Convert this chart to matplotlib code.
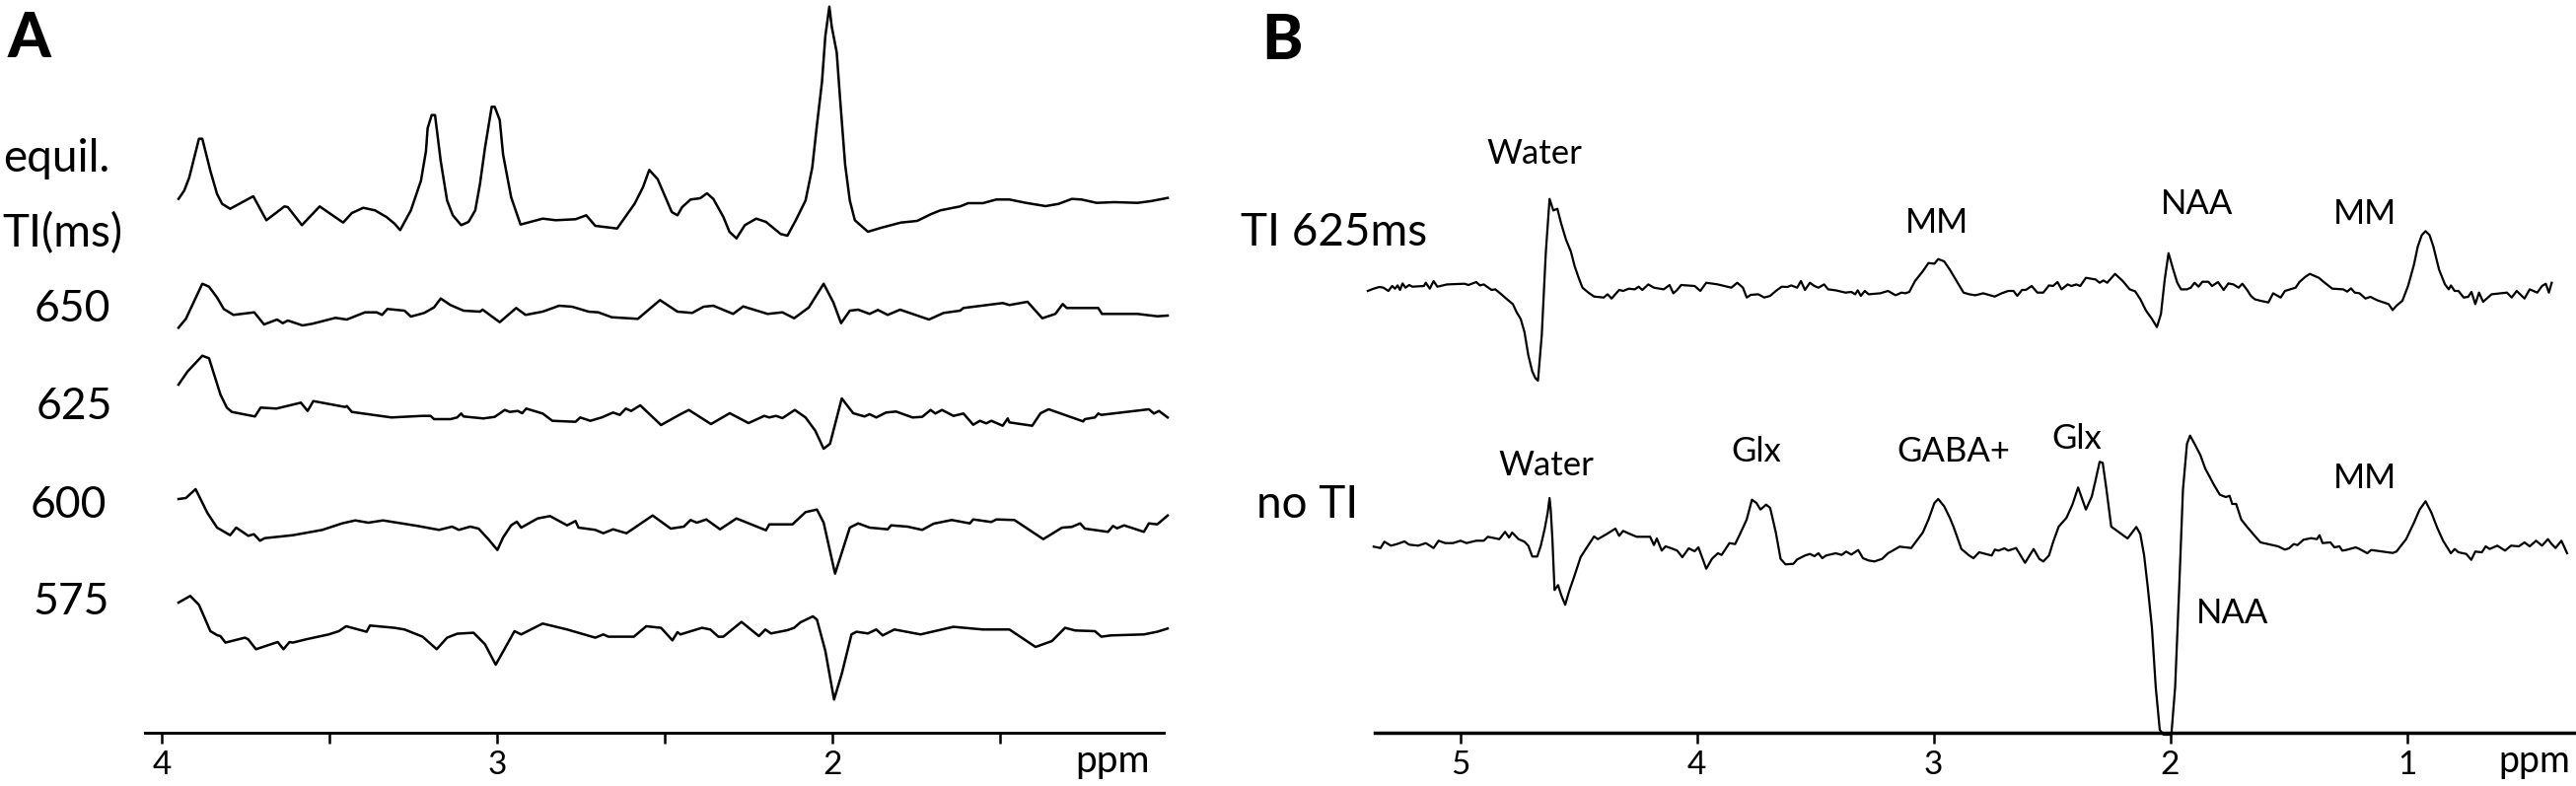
import numpy as np
import matplotlib
matplotlib.use("Agg")
import matplotlib.pyplot as plt

# ---------------- data (ppm, amplitude) ----------------
# Panel A
equil_ppm = [3.950, 3.933, 3.918, 3.889, 3.879, 3.855, 3.835, 3.820, 3.796, 3.727, 3.688, 3.634, 3.624, 3.582, 3.529,
             3.459, 3.433, 3.399, 3.364, 3.330, 3.306, 3.289, 3.257, 3.227, 3.212, 3.207, 3.195, 3.185, 3.168, 3.149,
             3.132, 3.107, 3.085, 3.065, 3.051, 3.036, 3.016, 3.007, 2.992, 2.982, 2.958, 2.930, 2.864, 2.825, 2.766,
             2.734, 2.707, 2.642, 2.590, 2.565, 2.546, 2.521, 2.502, 2.479, 2.462, 2.448, 2.423, 2.394, 2.374, 2.355,
             2.325, 2.307, 2.286, 2.261, 2.227, 2.198, 2.154, 2.134, 2.109, 2.080, 2.060, 2.046, 2.031, 2.021, 2.009,
             2.002, 1.987, 1.977, 1.962, 1.948, 1.933, 1.894, 1.855, 1.796, 1.747, 1.707, 1.678, 1.619, 1.595, 1.551,
             1.511, 1.472, 1.423, 1.364, 1.325, 1.286, 1.257, 1.212, 1.159, 1.090, 1.051, 1.000]
equil_amp = [13.3, 21.7, 35, 74.3, 74.3, 41.7, 18.3, 8.3, 3.3, 16, -8.3, 5.7, 5, -13.3, 5.7,
             -10.7, -1, 4.3, 1.7, -5, -11.7, -18.3, 1.7, 31.7, 61.7, 85, 98.3, 98.3, 51.7, 11.7,
             -3.3, -13.3, -10, 1.7, 28.3, 65, 106.7, 106.7, 93.3, 58.3, 15, -12.7, -6.7, -8.3, -7.3,
             -3.3, -14, -16.7, 8.3, 25, 42.7, 33.3, 18.3, 0, -3.3, 5, 12.7, 14, 19, 13.3,
             -5, -20, -26.7, -13.3, -6.7, -10, -22.3, -24, -8.3, 11.7, 45, 88.3, 131.7, 178.3, 208.3,
             188.3, 161.7, 115, 48.3, 11.7, -8.3, -20, -16, -10.7, -9, -2.3, 1.7, 5.7, 9, 9,
             12.7, 12.7, 9.3, 6, 8.3, 13.3, 12.7, 9.3, 10, 9.3, 11, 14.3]

ti650_ppm = [3.950, 3.928, 3.879, 3.859, 3.835, 3.815, 3.786, 3.724, 3.695, 3.656, 3.639, 3.624, 3.580, 3.551, 3.482,
             3.448, 3.394, 3.359, 3.343, 3.327, 3.276, 3.257, 3.217, 3.188, 3.168, 3.139, 3.100, 3.051, 3.043, 2.992,
             2.943, 2.915, 2.864, 2.815, 2.776, 2.727, 2.698, 2.658, 2.580, 2.514, 2.462, 2.418, 2.384, 2.355, 2.296,
             2.266, 2.193, 2.149, 2.114, 2.070, 2.026, 1.997, 1.974, 1.948, 1.923, 1.889, 1.864, 1.835, 1.798, 1.712,
             1.668, 1.619, 1.609, 1.492, 1.472, 1.418, 1.374, 1.335, 1.313, 1.301, 1.207, 1.196, 1.090, 1.031, 1.000]
ti650_amp = [-17.3, -8.3, 27.3, 24.3, 13.3, 1.7, -4.3, -1.7, -14, -9, -12.7, -10, -15, -13.3, -7.3,
             -9, -1.7, -1.7, -4.3, 1.7, 0, -6, -2.3, 3.3, 12.3, 5.7, 0, -1, 1, -11.7,
             2.7, -4.3, -1, 5, 4, -1, -1.7, -6.7, -8.3, 10.7, -1, -2.3, 4, 5, -3.3,
             4.3, -3.3, -1.7, -7.7, 3.3, 27.3, 8.3, -12.7, 0, 1, -3.3, 0.7, -4.3, 1, -9,
             -2.3, 0, 2.7, 7.7, 5.7, 9, -7.7, -3.3, 6.7, 2.7, 2.7, -3.3, -3.3, -5.7, -5]

ti625_ppm = [3.950, 3.923, 3.879, 3.859, 3.825, 3.806, 3.791, 3.722, 3.705, 3.658, 3.585, 3.565, 3.548, 3.453, 3.448,
             3.433, 3.315, 3.222, 3.198, 3.188, 3.139, 3.119, 3.107, 3.100, 3.041, 3.007, 2.977, 2.962, 2.938, 2.925,
             2.913, 2.864, 2.835, 2.766, 2.752, 2.722, 2.688, 2.654, 2.634, 2.616, 2.600, 2.573, 2.511, 2.453, 2.428,
             2.362, 2.306, 2.250, 2.203, 2.188, 2.168, 2.149, 2.112, 2.080, 2.051, 2.026, 2.007, 1.972, 1.938, 1.904,
             1.889, 1.869, 1.840, 1.810, 1.761, 1.732, 1.707, 1.693, 1.673, 1.639, 1.609, 1.580, 1.560, 1.541, 1.526,
             1.492, 1.477, 1.472, 1.404, 1.379, 1.355, 1.252, 1.247, 1.217, 1.207, 1.198, 1.056, 1.041, 1.026, 1.000]
ti625_amp = [30, 43.3, 59.3, 56.7, 20, 6.7, 2.3, -2.3, 6.7, 5.7, 11.7, 3.3, 13.3, 7.3, 8.3,
             2.3, -3.3, -1.7, -1.7, -5, -5, -3.3, 0.7, -2.3, -4.3, -2.7, 4.3, 2.3, 3.3, 1,
             5.7, 0.7, -6.7, -7.7, -3.3, -6.7, -3.3, 1.7, -0.7, 5.7, 3.3, 9, -11, 0, 4.3,
             -10, 1, -9, -1.7, -3.3, -1.7, -4, 4.3, -3.3, -16.7, -35, -30, 16, 1, -2.3,
             0, -3.3, 1.7, 2.7, -3.3, -2.7, 4.3, 0.7, 4.3, -1.7, 0.7, -10.7, -6.7, -9.3, -6.7,
             -11.7, -4.3, -8.3, -11.7, 1, 5, -7.3, -5, -3.3, 0.7, -0.7, 5, 0.7, 3.3, -3.3]

ti600_ppm = [3.950, 3.928, 3.899, 3.864, 3.835, 3.796, 3.778, 3.742, 3.725, 3.707, 3.693, 3.609, 3.521, 3.462, 3.423,
             3.384, 3.340, 3.237, 3.173, 3.134, 3.114, 3.080, 3.055, 3.026, 2.999, 2.982, 2.958, 2.941, 2.928, 2.879,
             2.842, 2.791, 2.766, 2.757, 2.707, 2.683, 2.654, 2.614, 2.536, 2.482, 2.443, 2.423, 2.404, 2.376, 2.335,
             2.286, 2.198, 2.188, 2.119, 2.080, 2.046, 2.026, 1.992, 1.948, 1.923, 1.889, 1.835, 1.825, 1.776, 1.732,
             1.698, 1.644, 1.590, 1.580, 1.526, 1.511, 1.457, 1.371, 1.315, 1.286, 1.261, 1.247, 1.178, 1.163, 1.151,
             1.130, 1.071, 1.056, 1.031, 1.000]
ti600_amp = [31, 32, 41, 17, 2, -5.7, 2, -6.3, -4.7, -11.3, -8.7, -5.7, -0.3, 6.3, 9.3,
             7, 9.3, 3.7, -0.3, 3, -0.3, 3, 1, -9.7, -20.7, -8, 4.3, 8, 2, 11.3,
             13.7, 4.3, 8.7, 2, -0.3, -3.7, 0.3, -3.7, 14.3, 1, 3, 9.7, 7, 10.3, 0.3,
             11.3, -0.7, 5.3, 5.3, 17.7, 20.3, 7, -44.7, 2, 6.3, 2, 0.3, 4.3, 3, -0.3,
             6, 9.7, 6.3, 10.3, 7.7, 10.3, 9.7, -9.7, 2, 2.7, 6.3, 1, -2.3, 3.7, 1.3,
             4.3, -2.3, 6.3, 5.3, 14.3]

ti575_ppm = [3.950, 3.915, 3.889, 3.855, 3.835, 3.825, 3.810, 3.752, 3.742, 3.719, 3.654, 3.637, 3.619, 3.609, 3.570,
             3.502, 3.472, 3.450, 3.389, 3.379, 3.306, 3.276, 3.222, 3.180, 3.149, 3.119, 3.070, 3.036, 3.004, 2.948,
             2.928, 2.864, 2.791, 2.707, 2.683, 2.668, 2.592, 2.555, 2.511, 2.477, 2.462, 2.453, 2.389, 2.364, 2.340,
             2.325, 2.271, 2.219, 2.200, 2.183, 2.134, 2.114, 2.095, 2.058, 2.046, 2.021, 1.995, 1.972, 1.943, 1.928,
             1.894, 1.869, 1.850, 1.815, 1.737, 1.639, 1.551, 1.472, 1.394, 1.345, 1.306, 1.276, 1.217, 1.198, 1.169,
             1.071, 1.031, 1.000]
ti575_amp = [32.3, 39, 30, 3.3, -0.7, -1.7, -8.3, -3.3, -5, -15, -7.7, -15, -7.7, -8.3, -5,
             0, 3.3, 8.3, 2.7, 9, 6.7, 5, -2.3, -15, -3.3, 0.7, 1.7, -10, -30.7, 3.3,
             0, 11, 5, -3.3, 0, -2.3, -2.3, 8.3, 6.7, -6, 2.3, 0, 6.7, 5, -2.3,
             -2.3, 12.7, -1.7, 5, 1, 4.3, 6.7, 12.3, 18.3, 15, -16.7, -66, -40, 0, 2.7,
             1, 5, -1, 5, 0, 7.7, 5, 5, -12.7, -6.7, 6.7, 4, 3.3, -2.3, -1,
             0, 2.7, 6]

a_labels = ["equil.", "TI(ms)", "650", "625", "600", "575"]
a_ticks = [4, 3.5, 3, 2.5, 2, 1.5]
a_ticklabels = ["4", "", "3", "", "2", ""]

# Panel B  (ppm, amplitude) pairs
b_ti625 = [(5.390, -3.3), (5.365, -1), (5.341, 0.7), (5.324, 0), (5.303, -3.3), (5.287, 1.7), (5.275, -1), (5.264, 2.3),
           (5.254, -2.3), (5.243, 4.3), (5.231, 0), (5.215, 2.7), (5.202, 1), (5.153, 1.7), (5.145, 5), (5.128, -1),
           (5.112, 6.7), (5.096, 1), (5.055, 3.3), (4.981, 4), (4.965, 2.7), (4.932, 5.7), (4.916, 2.3), (4.900, 3.3),
           (4.867, -2.3), (4.851, -1.7), (4.826, -6.7), (4.802, -11.7), (4.777, -16.7), (4.761, -25), (4.744, -31.7),
           (4.728, -45), (4.712, -68.3), (4.695, -85), (4.682, -91.7), (4.671, -94.3), (4.655, -48.3), (4.638, 35),
           (4.622, 90), (4.606, 78.3), (4.589, 80), (4.573, 65), (4.552, 48.3), (4.532, 36.7), (4.516, 21.7),
           (4.499, 10), (4.483, 0), (4.458, -5), (4.434, -9), (4.393, -10), (4.377, -6.7), (4.360, -11), (4.328, -2.3),
           (4.311, -3.3), (4.287, -1), (4.262, -1.7), (4.246, 1), (4.230, -2.3), (4.205, 3.3), (4.181, 0),
           (4.140, -1.7), (4.115, 2.7), (4.099, -5.7), (4.083, -2.3), (4.066, 2.7), (4.009, 1.7), (3.985, -3.3),
           (3.960, 5), (3.911, 3.3), (3.870, 1), (3.854, 0), (3.829, 5), (3.805, 0), (3.789, -10), (3.772, -7.3),
           (3.740, -6.7), (3.715, -10), (3.690, -8.3), (3.666, -3.3), (3.641, 1), (3.617, 0.7), (3.601, 2.3),
           (3.576, 0), (3.560, 6.7), (3.543, -2.3), (3.522, 5), (3.503, 1.7), (3.486, 0), (3.462, 3.3), (3.445, -1.7),
           (3.413, -2.7), (3.372, -5), (3.347, -4.3), (3.331, -6.7), (3.320, -2.7), (3.307, -8.3), (3.290, -3.3),
           (3.274, -6.7), (3.225, -5.7), (3.192, -3.3), (3.160, -7.7), (3.135, -5), (3.119, -5.7), (3.102, -4.3),
           (3.078, 6.7), (3.045, 16.7), (3.021, 25), (2.996, 24.3), (2.980, 29), (2.955, 26.7), (2.931, 18.3),
           (2.906, 8.3), (2.873, -5), (2.849, -6.7), (2.823, -7.7), (2.790, -5.7), (2.766, -7.3), (2.741, -9),
           (2.712, -5.7), (2.684, -3.3), (2.662, -3.3), (2.646, -8.3), (2.626, -2.3), (2.610, -2.3), (2.585, 1.7),
           (2.561, -5), (2.536, -5), (2.512, 2.3), (2.495, 1.7), (2.476, 5.7), (2.459, -1.7), (2.433, 3.3),
           (2.417, 1.7), (2.397, 3.3), (2.380, 1.7), (2.356, 10), (2.315, 8.3), (2.298, 5), (2.282, 7.3), (2.266, 5),
           (2.233, 14), (2.200, 6.7), (2.171, -1.7), (2.148, -3.7), (2.126, -11.7), (2.102, -23.3), (2.077, -31.7),
           (2.056, -40), (2.039, -26.7), (2.023, 8.3), (2.007, 35), (1.987, 18.3), (1.970, 5), (1.954, -1.7),
           (1.929, -1.7), (1.913, 0), (1.897, 5), (1.880, 1), (1.864, 6), (1.839, 6), (1.823, 1.7), (1.798, 5.7),
           (1.774, -2.3), (1.754, 4.3), (1.733, 3.3), (1.711, 0), (1.695, 4), (1.675, -2.3), (1.659, -8.3),
           (1.643, -11.7), (1.618, -13.3), (1.585, -15), (1.565, -5.7), (1.533, -10), (1.515, -3.3), (1.470, 0),
           (1.454, 5.7), (1.429, 11), (1.410, 14), (1.372, 10), (1.347, 5), (1.315, -1), (1.269, -1.7), (1.252, -4),
           (1.236, -0.7), (1.220, -5), (1.200, -5.7), (1.175, -11), (1.154, -9.3), (1.126, -12.7), (1.077, -16.7),
           (1.060, -22.7), (1.044, -18.3), (1.019, -13.3), (0.995, 1.7), (0.970, 23.3), (0.954, 41.7), (0.937, 53.3),
           (0.921, 57.3), (0.904, 53.3), (0.888, 41.7), (0.864, 18.3), (0.839, 3.3), (0.823, -1.7), (0.814, 2.3),
           (0.798, -3.3), (0.782, -3.3), (0.760, -10), (0.741, -9.3), (0.727, -4.3), (0.711, -16.7), (0.695, -5),
           (0.678, -14.3), (0.642, -6.7), (0.577, -5), (0.557, -10), (0.536, -3.3), (0.503, -11), (0.481, -1.7),
           (0.449, -5), (0.429, 1.7), (0.413, 4), (0.400, -5), (0.388, 5)]

b_noti = [(5.365, 0.7), (5.336, -0.7), (5.320, 5.7), (5.292, 1.7), (5.267, 3.3), (5.235, 6), (5.215, 2.7), (5.177, 1.7),
          (5.145, 4.3), (5.112, -0.7), (5.091, 6.7), (5.063, 4.3), (5.030, 4.3), (4.998, 6.7), (4.973, 4.3),
          (4.932, 6.7), (4.900, 6.7), (4.883, 10.7), (4.834, 8.3), (4.810, 15.7), (4.793, 10), (4.780, 15),
          (4.753, 8.3), (4.728, 5.7), (4.712, 1.7), (4.695, -9.3), (4.674, -9.3), (4.659, 1.7), (4.643, 18.3),
          (4.630, 35), (4.622, 50), (4.617, 37.7), (4.610, 8.3), (4.601, -43.3), (4.586, -38.3), (4.573, -48.3),
          (4.556, -58.3), (4.540, -45), (4.516, -28.3), (4.491, -10), (4.467, -1), (4.434, 11), (4.418, 8.3),
          (4.377, 14), (4.344, 19), (4.328, 11.7), (4.311, 16.7), (4.287, 14), (4.254, 10.7), (4.197, 10.7),
          (4.181, 2.3), (4.169, 9), (4.148, -3.3), (4.132, 1), (4.107, -1), (4.083, -3.3), (4.061, -10), (4.034, -1),
          (4.009, -4), (3.993, 0), (3.960, -21.7), (3.936, -11.7), (3.911, -6), (3.895, -7.7), (3.862, 4.3),
          (3.838, 3.3), (3.821, 11.7), (3.789, 28.3), (3.767, 48.3), (3.748, 45), (3.731, 38.3), (3.707, 43.3),
          (3.690, 40), (3.666, 15), (3.646, -11.7), (3.625, -17.3), (3.592, -16.7), (3.576, -12.3), (3.543, -8.3),
          (3.522, -6.7), (3.503, -9), (3.486, -6), (3.470, -11), (3.454, -8.3), (3.413, -6), (3.388, -7.7),
          (3.369, -4.3), (3.347, -7.3), (3.318, -2.7), (3.298, -11), (3.274, -13.3), (3.249, -14.3), (3.217, -11.7),
          (3.192, -6), (3.143, 0.7), (3.094, -0.7), (3.045, 15), (3.021, 28.3), (2.996, 45), (2.980, 49),
          (2.955, 41.7), (2.931, 30), (2.914, 20), (2.882, -1.7), (2.849, -8.3), (2.831, -11), (2.807, -5),
          (2.754, -8.3), (2.741, -2.3), (2.725, -3.3), (2.700, -1), (2.684, -3.3), (2.651, -0.7), (2.613, -15.7),
          (2.577, -1.7), (2.553, -11.7), (2.536, -14.3), (2.512, -8.3), (2.495, 5), (2.471, 21), (2.438, 30),
          (2.413, 43.3), (2.389, 60.7), (2.356, 38.3), (2.331, 51.7), (2.315, 68.3), (2.298, 86.7), (2.285, 85.7),
          (2.269, 58.3), (2.249, 21), (2.180, 9), (2.143, 20.7), (2.126, 13.3), (2.110, -8.3), (2.094, -41.7),
          (2.077, -81.7), (2.061, -141.7), (2.044, -185), (2.028, -190), (1.995, -190), (1.979, -141.7),
          (1.962, -41.7), (1.946, 58.3), (1.929, 105), (1.916, 113.3), (1.897, 105), (1.872, 93.3), (1.852, 80),
          (1.815, 63.3), (1.790, 53.3), (1.765, 51), (1.749, 52.3), (1.738, 44), (1.721, 44), (1.700, 28.3),
          (1.675, 20.7), (1.643, 11.7), (1.618, 5), (1.544, 1), (1.515, -2.3), (1.498, -1), (1.478, 3.3),
          (1.462, 2.3), (1.437, 7.7), (1.405, 9.3), (1.380, 8.3), (1.369, 12.3), (1.356, 4.3), (1.323, 5),
          (1.306, 0), (1.285, 1), (1.273, -3.3), (1.257, -2.7), (1.216, 0), (1.200, -1.7), (1.167, -6),
          (1.151, -2.7), (1.060, -5.7), (1.044, -4.3), (1.003, 8.3), (0.970, 25), (0.946, 38.3), (0.921, 46.7),
          (0.896, 35), (0.872, 20), (0.847, 6.7), (0.814, -6), (0.798, -1.7), (0.782, -5), (0.749, -6.7),
          (0.728, -12.7), (0.711, -4.3), (0.683, -5), (0.667, 1), (0.650, -1.7), (0.618, 1.7), (0.585, -3.3),
          (0.560, 1.7), (0.527, 1), (0.503, 5), (0.481, 1), (0.454, 6.7), (0.429, 1.7), (0.404, 8.3), (0.388, 3.3),
          (0.372, -0.7), (0.347, 6.7), (0.323, -6)]

b_labels = ["TI 625ms", "no TI"]
b_ti625_peaks = ["Water", "MM", "NAA", "MM"]
b_noti_peaks = ["Water", "Glx", "GABA+", "Glx", "NAA", "MM"]
b_ticks = [5, 4, 3, 2, 1]
b_ticklabels = ["5", "4", "3", "2", "1"]

# ---------------- figure ----------------
W, H, DPI = 2612, 797, 100
plt.rcParams['font.family'] = ['Lato', 'DejaVu Sans']
fig = plt.figure(figsize=(W / DPI, H / DPI), dpi=DPI)


def ftext(x, y, s, **kw):
    """place text at pixel position (x from left, y from top = baseline)"""
    kw.setdefault('va', 'baseline')
    fig.text(x / W, 1 - y / H, s, **kw)


def style_axis(ax, bounds, ticks, labels, lw):
    for side in ('top', 'left', 'right'):
        ax.spines[side].set_visible(False)
    ax.spines['bottom'].set_position(('data', H - 743))
    ax.spines['bottom'].set_bounds(*bounds)
    ax.spines['bottom'].set_linewidth(lw)
    ax.set_yticks([])
    ax.set_xticks(ticks)
    ax.set_xticklabels(labels)
    ax.tick_params(axis='x', direction='out', length=8, width=1.8, labelsize=24, pad=5)
    ax.patch.set_visible(False)


# Panel A
axA = fig.add_axes([140 / W, 0, 1060 / W, 1])
axA.set_xlim(4 + 24 / 340, 4 - 1036 / 340)
axA.set_ylim(0, H)
for ppm, amp, base in [(equil_ppm, equil_amp, 215), (ti650_ppm, ti650_amp, 315), (ti625_ppm, ti625_amp, 420),
                       (ti600_ppm, ti600_amp, 537), (ti575_ppm, ti575_amp, 643.3)]:
    axA.plot(ppm, H - base + np.asarray(amp), color='black', lw=1.8)
style_axis(axA, (4.05, 1.012), a_ticks, a_ticklabels, 2.1)

# Panel B
axB = fig.add_axes([1380 / W, 0, 1232 / W, 1])
axB.set_xlim(5 + 100.5 / 240, 5 - 1131.5 / 240)
axB.set_ylim(0, H)
for pts, base in [(b_ti625, 291.7), (b_noti, 555)]:
    arr = np.asarray(pts)
    axB.plot(arr[:, 0], H - base + arr[:, 1], color='black', lw=1.6)
style_axis(axB, (5.36, 0.29), b_ticks, b_ticklabels, 2.5)

# Text
ftext(8, 58, "A", fontsize=45, fontweight='black')
ftext(1279, 60, "B", fontsize=45, fontweight='black')

a_pos = [(3, 174), (2, 250), (35, 326), (37, 425), (31, 525), (33, 623)]
for s, (x, y) in zip(a_labels, a_pos):
    ftext(x, y, s, fontsize=32 if s[0].isdigit() else 33)
ftext(1128, 783, "ppm", fontsize=28, ha='center')
ftext(2570, 783, "ppm", fontsize=27, ha='center')

ftext(1258, 249, b_labels[0], fontsize=33)
ftext(1274, 525, b_labels[1], fontsize=33)

for s, (x, y) in zip(b_ti625_peaks, [(1556, 166), (1964, 236), (2228, 217), (2398, 227)]):
    ftext(x, y, s, fontsize=25, ha='center')
for s, (x, y) in zip(b_noti_peaks, [(1568, 482), (1781, 468), (1981, 468), (2106, 455), (2264, 632), (2398, 495)]):
    ftext(x, y, s, fontsize=25, ha='center')

fig.savefig("out.png", dpi=DPI)
